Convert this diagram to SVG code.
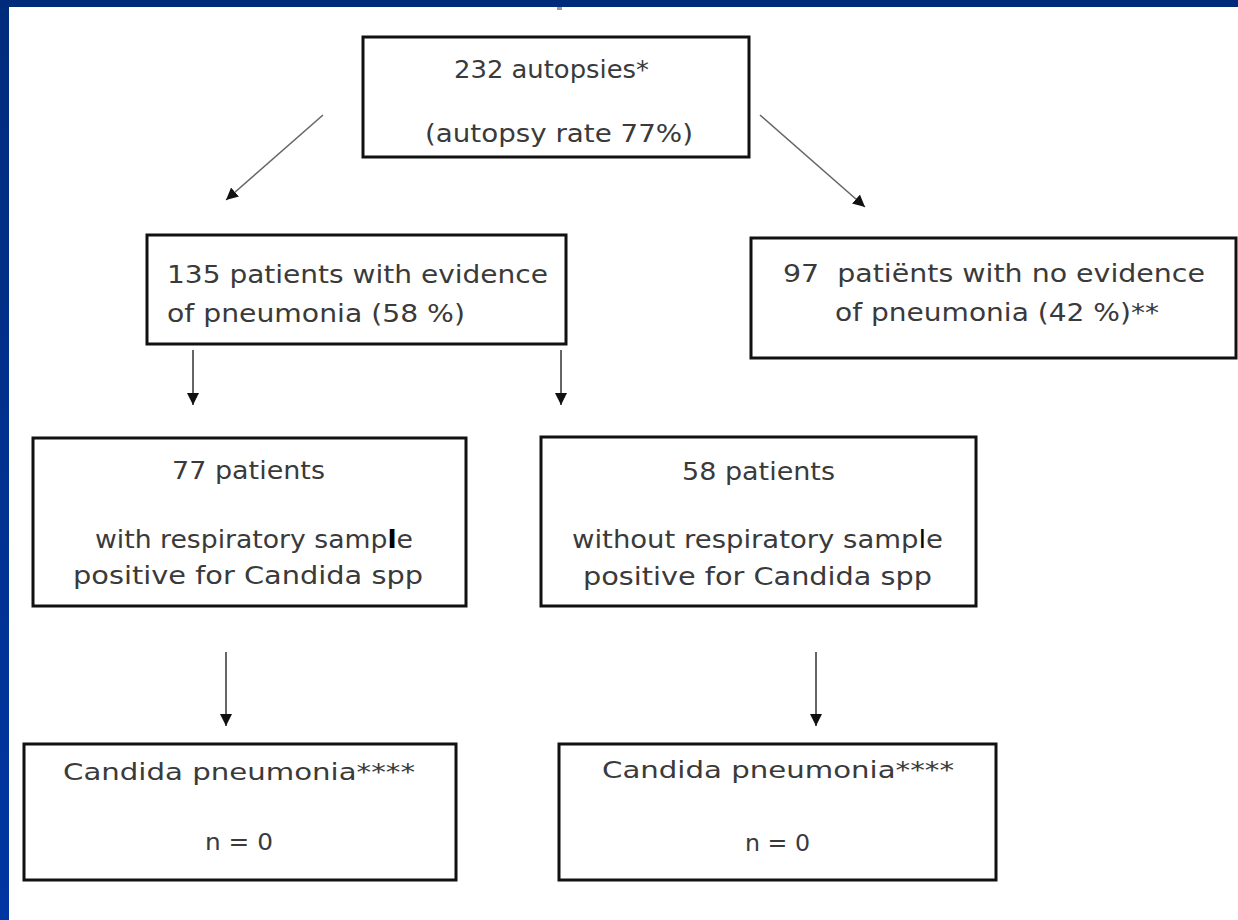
<svg xmlns="http://www.w3.org/2000/svg" width="1238" height="920" viewBox="0 0 1238 920">
<defs>
<style>
.box{fill:#fff;stroke:#111;stroke-width:3}
.t{font-family:"DejaVu Sans","Liberation Sans",sans-serif;font-size:24px;fill:#3a3a3a;white-space:pre}
.c{font-size:23px}
.conn line{stroke:#666;stroke-width:2;marker-end:url(#ah)}
.conn .d{stroke-width:1.6}
</style>
<marker id="ah" markerUnits="userSpaceOnUse" markerWidth="12" markerHeight="12" refX="12" refY="6" orient="auto">
<path d="M0,0 L12,6 L0,12 z" fill="#111"/>
</marker>
<linearGradient id="lb" x1="0" y1="0" x2="0" y2="1">
<stop offset="0" stop-color="#002c7c"/>
<stop offset="1" stop-color="#0036a2"/>
</linearGradient>
</defs>
<rect width="1238" height="920" fill="#fff"/>
<rect x="0" y="0" width="9" height="920" fill="url(#lb)"/>
<rect x="0" y="0" width="1238" height="7" fill="#002a7a"/>
<rect x="557" y="7" width="5" height="3" fill="#999"/>

<g id="n-autopsies">
<rect class="box" x="363" y="37" width="386" height="120"/>
<text class="t" x="454" y="78" textLength="195" lengthAdjust="spacingAndGlyphs">232 autopsies*</text>
<text class="t" x="425" y="142" textLength="268" lengthAdjust="spacingAndGlyphs">(autopsy rate 77%)</text>
</g>

<g id="n-pneumonia">
<rect class="box" x="147" y="235" width="419" height="109"/>
<text class="t" x="167" y="283" textLength="381" lengthAdjust="spacingAndGlyphs">135 patients with evidence</text>
<text class="t" x="167" y="322" textLength="298" lengthAdjust="spacingAndGlyphs">of pneumonia (58 %)</text>
</g>

<g id="n-no-pneumonia">
<rect class="box" x="751" y="238" width="485" height="120"/>
<text class="t" x="783" y="282" textLength="422" lengthAdjust="spacingAndGlyphs" xml:space="preserve">97  patiënts with no evidence</text>
<text class="t" x="835" y="321" textLength="324" lengthAdjust="spacingAndGlyphs">of pneumonia (42 %)**</text>
</g>

<g id="n-with-sample">
<rect class="box" x="33" y="438" width="433" height="168"/>
<text class="t" x="172" y="479" textLength="153" lengthAdjust="spacingAndGlyphs">77 patients</text>
<text class="t" x="95" y="548" textLength="318" lengthAdjust="spacingAndGlyphs">with respiratory samp<tspan fill="#000" font-weight="bold">l</tspan>e</text>
<text class="t" x="73" y="584" textLength="350" lengthAdjust="spacingAndGlyphs">positive for Candida spp</text>
</g>

<g id="n-without-sample">
<rect class="box" x="541" y="437" width="435" height="169"/>
<text class="t" x="682" y="480" textLength="153" lengthAdjust="spacingAndGlyphs">58 patients</text>
<text class="t" x="572" y="548" textLength="371" lengthAdjust="spacingAndGlyphs">without respiratory samp<tspan fill="#000">l</tspan>e</text>
<text class="t" x="583" y="585" textLength="349" lengthAdjust="spacingAndGlyphs">positive for Candida spp</text>
</g>

<g id="n-candida-1">
<rect class="box" x="24" y="744" width="432" height="136"/>
<text class="t c" x="63" y="780" textLength="352" lengthAdjust="spacingAndGlyphs">Candida pneumonia****</text>
<text class="t c" x="205" y="850" textLength="68" lengthAdjust="spacingAndGlyphs">n = 0</text>
</g>

<g id="n-candida-2">
<rect class="box" x="559" y="744" width="437" height="136"/>
<text class="t c" x="602" y="778" textLength="352" lengthAdjust="spacingAndGlyphs">Candida pneumonia****</text>
<text class="t c" x="745" y="851" textLength="65" lengthAdjust="spacingAndGlyphs">n = 0</text>
</g>

<g id="connectors" class="conn">
<line class="d" x1="323" y1="115" x2="226" y2="200"/>
<line class="d" x1="760" y1="115" x2="865" y2="207"/>
<line x1="193" y1="350" x2="193" y2="405"/>
<line x1="561" y1="350" x2="561" y2="405"/>
<line x1="226" y1="652" x2="226" y2="726"/>
<line x1="816" y1="652" x2="816" y2="726"/>
</g>
</svg>
